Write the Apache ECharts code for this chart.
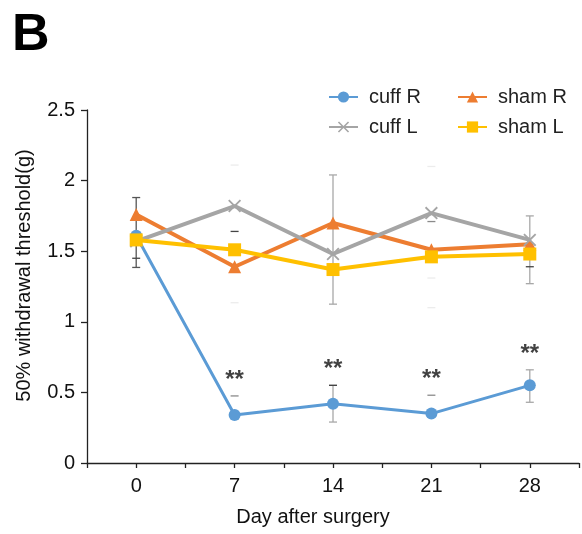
<!DOCTYPE html>
<html>
<head>
<meta charset="utf-8">
<script src="https://cdn.jsdelivr.net/npm/echarts@6/dist/echarts.min.js"></script>
<style>
  html, body { margin: 0; padding: 0; background: #fff; }
  #chart { width: 582px; height: 534px; }
</style>
</head>
<body>
<div id="chart"></div>
<script>
// Days after surgery and tick labels
const days = [0, 7, 14, 21, 28];
const dayLabels = ['0', '7', '14', '21', '28'];
const yTicks = ['0', '0.5', '1', '1.5', '2', '2.5'];

// 50% withdrawal threshold (g), group means
const cuffR = [1.61, 0.34, 0.42, 0.35, 0.55];
const shamR = [1.76, 1.39, 1.70, 1.51, 1.55];
const cuffL = [1.57, 1.82, 1.48, 1.77, 1.58];
const shamL = [1.58, 1.51, 1.37, 1.46, 1.48];

// Error bars: [day, low, high]
const darkWhiskers = [[0, 1.385, 1.88]];
const greyWhiskers = [[14, 1.125, 2.04], [28, 1.27, 1.75], [14, 0.29, 0.55], [28, 0.43, 0.66]];
// Lone error-bar caps: [day, value]
const darkCaps = [[0, 1.45], [7, 1.64], [28, 1.39], [14, 0.55]];
const lightCaps = [[7, 0.475], [21, 0.48], [21, 1.71]];
const faintCaps = [[7, 2.11], [7, 1.135], [21, 2.10], [21, 1.10], [21, 1.31]];

// Significance marks (cuff R vs. baseline) placed above the upper error bar
const sigDays = [7, 14, 21, 28];
const sigTop = [0.475, 0.55, 0.48, 0.66];
const sigText = '**';

const FONT = '"Liberation Sans", Arial, sans-serif';
const COLORS = { cuffR: '#5B9BD5', shamR: '#ED7D31', cuffL: '#A5A5A5', shamL: '#FFC000' };
const CROSS = 'path://M0,1L1,0L5,4L9,0L10,1L6,5L10,9L9,10L5,6L1,10L0,9L4,5Z';

const pair = (vals) => days.map((d, i) => [d, vals[i]]);

function whiskerSeries(data, color, z) {
  return {
    type: 'custom', z: z, silent: true,
    data: data,
    renderItem: (params, api) => {
      const top = api.coord([api.value(0), api.value(2)]);
      const bot = api.coord([api.value(0), api.value(1)]);
      const w = 4;
      const style = { stroke: color, lineWidth: 1.3 };
      return { type: 'group', children: [
        { type: 'line', shape: { x1: top[0], y1: top[1], x2: bot[0], y2: bot[1] }, style },
        { type: 'line', shape: { x1: top[0] - w, y1: top[1], x2: top[0] + w, y2: top[1] }, style },
        { type: 'line', shape: { x1: bot[0] - w, y1: bot[1], x2: bot[0] + w, y2: bot[1] }, style }
      ] };
    }
  };
}

function capSeries(data, color, z) {
  return {
    type: 'custom', z: z, silent: true,
    data: data,
    renderItem: (params, api) => {
      const p = api.coord([api.value(0), api.value(1)]);
      return { type: 'line', shape: { x1: p[0] - 4, y1: p[1], x2: p[0] + 4, y2: p[1] },
        style: { stroke: color, lineWidth: 1.3 } };
    }
  };
}

function lineSeries(name, vals, color, symbol, size, width, z) {
  return {
    name: name, type: 'line', data: pair(vals), z: z,
    symbol: symbol, symbolSize: size, showAllSymbol: true,
    lineStyle: { color: color, width: width },
    itemStyle: { color: color, opacity: 1 },
    emphasis: { disabled: true }, animation: false
  };
}

const chart = echarts.init(document.getElementById('chart'), null, { renderer: 'canvas' });

chart.setOption({
  animation: false,
  backgroundColor: '#ffffff',
  textStyle: { fontFamily: FONT },
  graphic: [
    { type: 'text', left: 12, top: 10,
      style: { text: 'B', font: 'bold 52px ' + FONT, fill: '#000' } }
  ],
  legend: [
    { orient: 'vertical', left: 323, top: 82, itemGap: 10, itemWidth: 29, itemHeight: 14,
      data: ['cuff R', 'cuff L'],
      textStyle: { fontSize: 20, color: '#222', fontFamily: FONT, padding: [0, 0, 0, 6] } },
    { orient: 'vertical', left: 452, top: 82, itemGap: 10, itemWidth: 29, itemHeight: 14,
      data: ['sham R', 'sham L'],
      textStyle: { fontSize: 20, color: '#222', fontFamily: FONT, padding: [0, 0, 0, 6] } }
  ],
  grid: { left: 87, top: 110, width: 500, height: 353, containLabel: false },
  xAxis: {
    type: 'value', min: -3.5, max: 31.5, interval: 3.5,
    name: 'Day after surgery', nameLocation: 'middle', nameGap: 44,
    nameTextStyle: { fontSize: 20, color: '#111', fontFamily: FONT, padding: [0, 40, 0, 0] },
    axisLine: { onZero: false, lineStyle: { color: '#222', width: 1.3 } },
    axisTick: { show: true, inside: false, length: 5, lineStyle: { color: '#222', width: 1.3 } },
    axisLabel: {
      fontSize: 20, color: '#111', margin: 13, fontFamily: FONT,
      formatter: (v) => {
        const i = days.findIndex(d => Math.abs(d - v) < 1e-6);
        return i >= 0 ? dayLabels[i] : '';
      }
    },
    splitLine: { show: false }
  },
  yAxis: {
    type: 'value', min: 0, max: 2.5, interval: 0.5,
    name: '50% withdrawal threshold(g)', nameLocation: 'middle', nameGap: 53,
    nameTextStyle: { fontSize: 20, color: '#111', fontFamily: FONT, padding: [0, 0, 0, 22] },
    axisLine: { show: true, onZero: false, lineStyle: { color: '#222', width: 1.3 } },
    axisTick: { show: true, inside: false, length: 6, lineStyle: { color: '#222', width: 1.3 } },
    axisLabel: {
      fontSize: 20, color: '#111', margin: 12, fontFamily: FONT,
      formatter: (v) => yTicks[Math.round(v / 0.5)] ?? ''
    },
    splitLine: { show: false }
  },
  series: [
    capSeries(faintCaps, '#ececec', 1),
    whiskerSeries(greyWhiskers, '#a8a8a8', 2),
    whiskerSeries(darkWhiskers, '#555555', 2),
    capSeries(lightCaps, '#8a8a8a', 2),
    lineSeries('cuff R', cuffR, COLORS.cuffR, 'circle', 12, 3, 3),
    lineSeries('sham R', shamR, COLORS.shamR, 'triangle', 13, 4, 4),
    lineSeries('cuff L', cuffL, COLORS.cuffL, CROSS, 13, 4, 5),
    lineSeries('sham L', shamL, COLORS.shamL, 'rect', 13, 4, 6),
    capSeries(darkCaps, '#444444', 7),
    {
      type: 'scatter', z: 8, silent: true, symbolSize: 1,
      itemStyle: { color: 'rgba(0,0,0,0)' },
      data: sigDays.map((d, i) => [d, sigTop[i]]),
      label: {
        show: true, position: 'top', distance: 3, formatter: sigText,
        fontSize: 24, fontWeight: 'bold', color: '#111', fontFamily: FONT
      }
    }
  ]
});
</script>
</body>
</html>
